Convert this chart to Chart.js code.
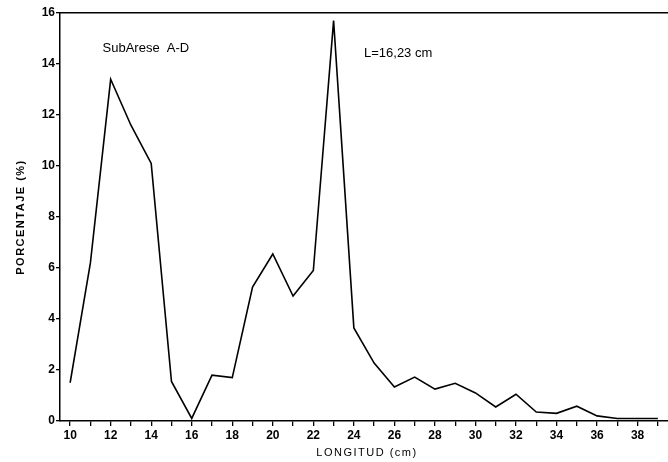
<!DOCTYPE html>
<html>
<head>
<meta charset="utf-8">
<script src="https://cdn.jsdelivr.net/npm/chart.js@4.4.0/dist/chart.umd.min.js"></script>
<style>
  html, body { margin: 0; padding: 0; background: #fff; }
  #grafico { display: block; }
</style>
</head>
<body>
<canvas id="grafico" width="668" height="462"></canvas>
<script>
// longitud (cm) y porcentaje (%) de la muestra
const longitudes = [10, 11, 12, 13, 14, 15, 16, 17, 18, 19, 20, 21, 22, 23, 24, 25,
  26, 27, 28, 29, 30, 31, 32, 33, 34, 35, 36, 37, 38, 39];
const porcentajes = [1.5, 6.2, 13.4, 11.6, 10.1, 1.55, 0.1, 1.8, 1.7, 5.25, 6.55, 4.9, 5.9, 15.7, 3.65, 2.27,
  1.33, 1.72, 1.25, 1.48, 1.1, 0.55, 1.05, 0.35, 0.3, 0.58, 0.2, 0.1, 0.1, 0.1];
const marcasX = [10, 11, 12, 13, 14, 15, 16, 17, 18, 19, 20, 21, 22, 23, 24, 25,
  26, 27, 28, 29, 30, 31, 32, 33, 34, 35, 36, 37, 38, 39];
const etiquetasY = [0, 2, 4, 6, 8, 10, 12, 14, 16];
const rotulo = "SubArese  A-D";
const talla = "L=16,23 cm";
const tituloX = "LONGITUD (cm)";
const tituloY = "PORCENTAJE (%)";

const fuente = "'Liberation Sans', Arial, sans-serif";

// textos dentro del grafico y titulos de los ejes
const textos = {
  id: "textos",
  afterDatasetsDraw(chart) {
    const { ctx, scales, chartArea } = chart;
    ctx.save();
    ctx.fillStyle = "#000";
    ctx.font = "13px " + fuente;
    ctx.textBaseline = "middle";
    ctx.fillText(rotulo, scales.x.getPixelForValue(11.6), scales.y.getPixelForValue(14.6));
    ctx.fillText(talla, scales.x.getPixelForValue(24.5), scales.y.getPixelForValue(14.4));

    ctx.textAlign = "center";
    ctx.letterSpacing = "1.5px";
    ctx.font = "11px " + fuente;
    ctx.fillText(tituloX, (chartArea.left + chartArea.right) / 2 + 3, chartArea.bottom + 32);

    ctx.font = "bold 11px " + fuente;
    ctx.translate(chartArea.left - 39, (chartArea.top + chartArea.bottom) / 2);
    ctx.rotate(-Math.PI / 2);
    ctx.fillText(tituloY, 0, 0);
    ctx.restore();
  },
};

const ctx = document.getElementById("grafico").getContext("2d");
new Chart(ctx, {
  type: "line",
  data: {
    datasets: [
      {
        data: longitudes.map((x, i) => ({ x: x, y: porcentajes[i] })),
        borderColor: "#000",
        borderWidth: 1.6,
        pointRadius: 0,
        tension: 0,
        fill: false,
      },
    ],
  },
  options: {
    responsive: false,
    animation: false,
    layout: { padding: { top: 13, right: 0, left: 0, bottom: 0 } },
    plugins: { legend: { display: false }, tooltip: { enabled: false } },
    scales: {
      x: {
        type: "linear",
        min: 9.5,
        max: 39.5,
        afterFit: (s) => { s.height = 41; },
        afterBuildTicks: (s) => { s.ticks = marcasX.map((v) => ({ value: v })); },
        border: { color: "#000", width: 1.5 },
        grid: { drawOnChartArea: false, color: "#000", tickLength: 5, lineWidth: 1.3 },
        ticks: {
          autoSkip: false,
          maxRotation: 0,
          padding: 2,
          color: "#000",
          font: { family: fuente, size: 12, weight: "bold" },
          callback: (v) => (v % 2 === 0 ? String(v) : ""),
        },
      },
      arriba: {
        type: "linear",
        position: "top",
        min: 9.5,
        max: 39.5,
        afterFit: (s) => { s.height = 0; },
        border: { color: "#000", width: 1.5 },
        grid: { display: false },
        ticks: { display: false },
      },
      y: {
        min: 0,
        max: 16,
        afterFit: (s) => { s.width = 60; },
        afterBuildTicks: (s) => { s.ticks = etiquetasY.map((v) => ({ value: v })); },
        border: { color: "#000", width: 1.5 },
        grid: { drawOnChartArea: false, color: "#000", tickLength: 4, lineWidth: 1.3 },
        ticks: {
          padding: 1,
          color: "#000",
          font: { family: fuente, size: 12, weight: "bold" },
        },
      },
    },
  },
  plugins: [textos],
});
</script>
</body>
</html>
